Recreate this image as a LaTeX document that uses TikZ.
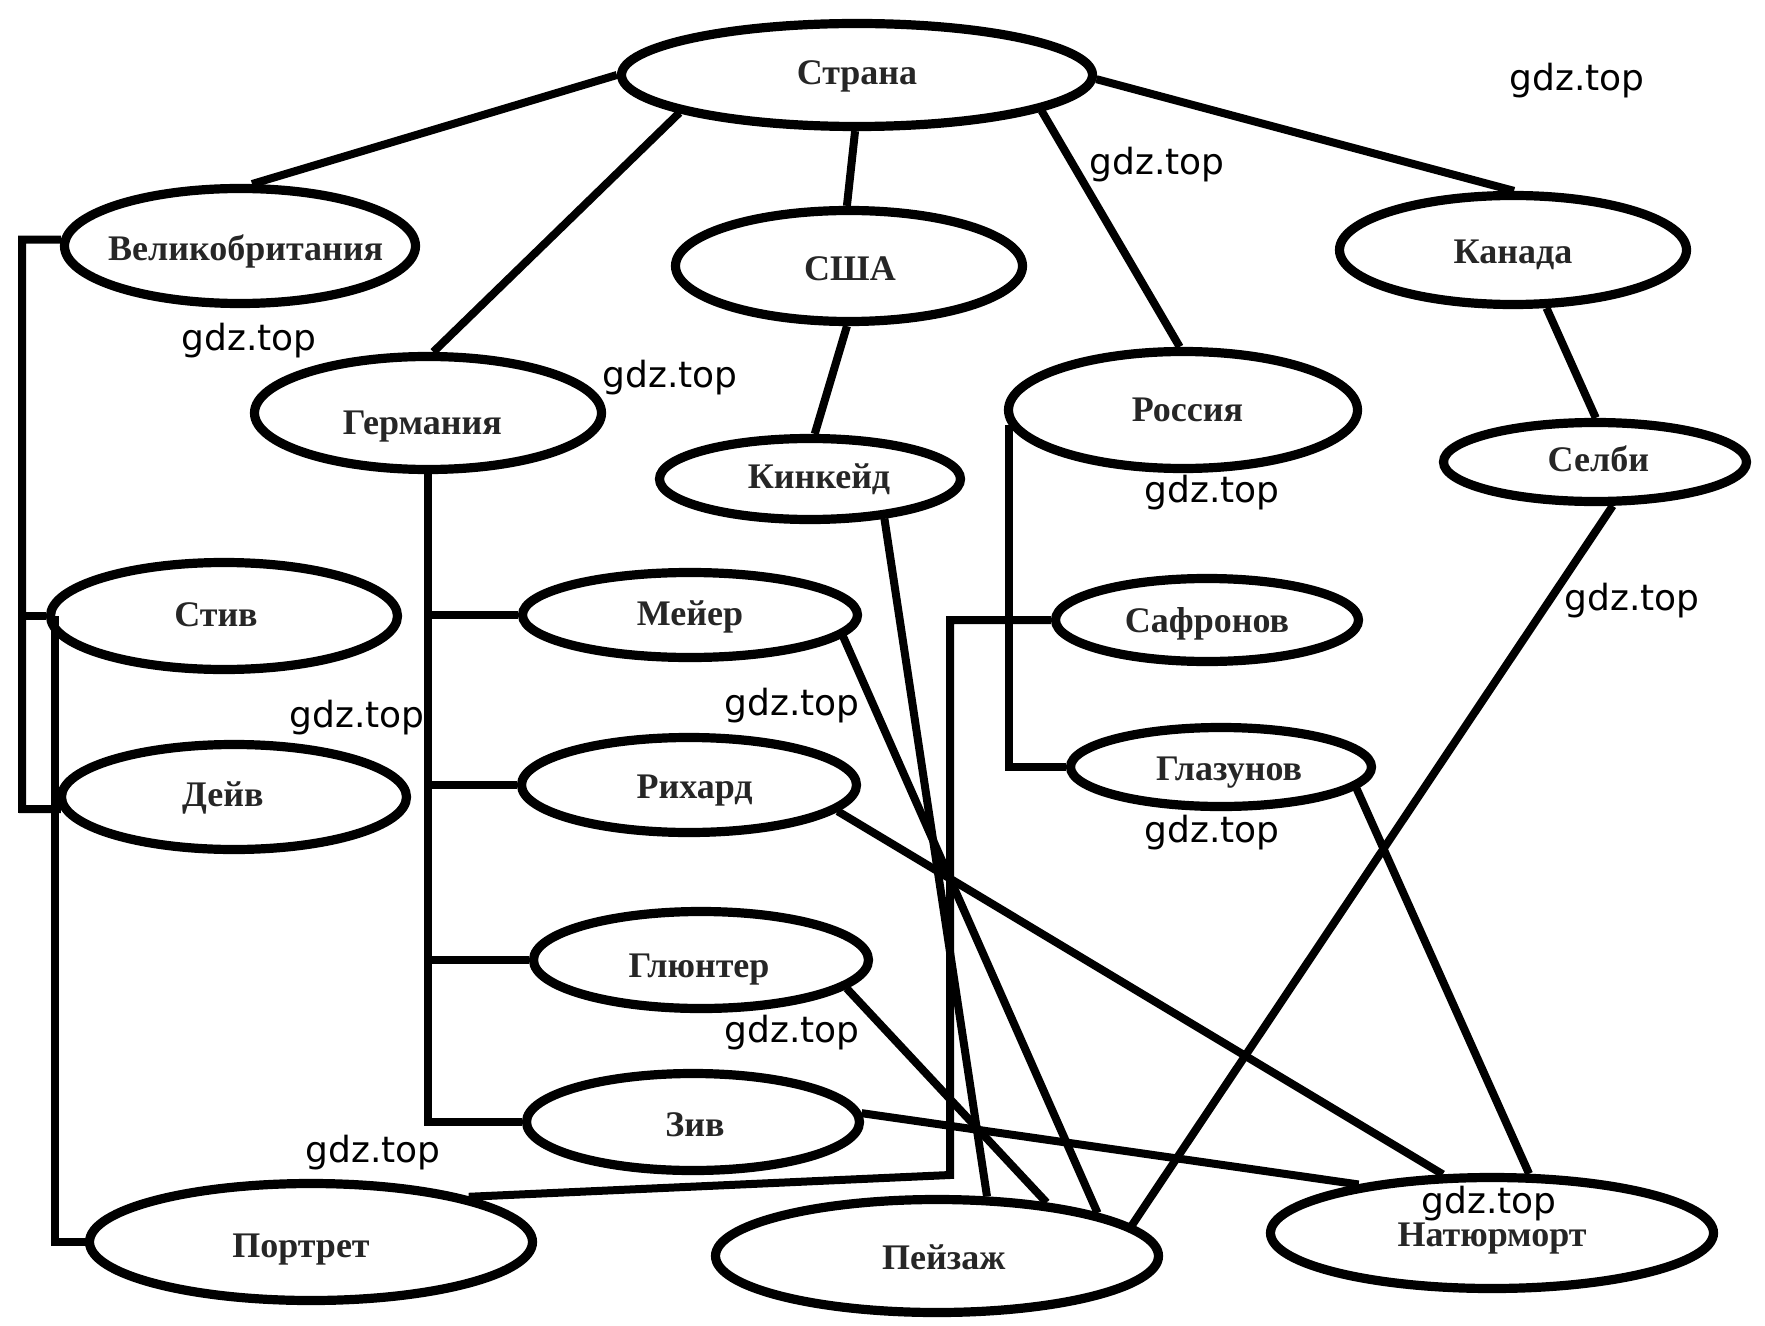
\documentclass[tikz,border=0pt]{standalone}
\usepackage{fontspec}
\setmainfont{Liberation Serif}
\newfontfamily\wmfont{DejaVu Sans}
\usetikzlibrary{shapes.geometric}
% #1 = horizontal shift, #2 = vertical raise, #3 = text
\newcommand{\lbx}[3]{\raisebox{#2}[0pt][0pt]{\makebox[0pt]{\kern#1\relax#3\kern-#1\relax}}}
\begin{document}
\begin{tikzpicture}[x=0.5pt,y=-0.5pt,
  ell/.style 2 args={ellipse,draw,line width=4.6pt,inner sep=0pt,
    minimum width=#1*0.5pt,minimum height=#2*0.5pt,
    text height=16pt,text depth=1pt,
    font=\bfseries\fontsize{18}{20}\selectfont,text=black!85},
  conn/.style={line width=4pt},
  wm/.style={font=\wmfont\fontsize{18}{20}\selectfont,inner sep=0pt}]
\useasboundingbox (0,0) rectangle (1765,1326);

% ellipses
\node[ell={471}{103}] (strana)    at (857,75)   {\lbx{0pt}{2.8pt}{Страна}};
\node[ell={351}{115}] (vb)        at (240,246)  {\lbx{2.8pt}{0.1pt}{Великобритания}};
\node[ell={347}{111}] (usa)       at (849,266)  {\lbx{0.5pt}{0.45pt}{США}};
\node[ell={347}{109}] (kanada)    at (1513,250) {\lbx{0pt}{0.7pt}{Канада}};
\node[ell={347}{113}] (germ)      at (428,413)  {\lbx{-2.8pt}{-3.3pt}{Германия}};
\node[ell={349}{117}] (rossiya)   at (1183,410) {\lbx{2.2pt}{1.55pt}{Россия}};
\node[ell={301}{81}]  (kinkeid)   at (810,479)  {\lbx{4.5pt}{2.9pt}{Кинкейд}};
\node[ell={303}{79}]  (selbi)     at (1595,462) {\lbx{1.7pt}{2.65pt}{Селби}};
\node[ell={347}{107}] (stiv)      at (224,616)  {\lbx{-4pt}{2.1pt}{Стив}};
\node[ell={335}{85}]  (meyer)     at (690,615)  {\lbx{0pt}{2.4pt}{Мейер}};
\node[ell={303}{83}]  (safronov)  at (1207,620) {\lbx{0pt}{1.25pt}{Сафронов}};
\node[ell={345}{105}] (deiv)      at (234,797)  {\lbx{-5.6pt}{2.9pt}{Дейв}};
\node[ell={335}{95}]  (rihard)    at (689,785)  {\lbx{2.8pt}{0.7pt}{Рихард}};
\node[ell={301}{79}]  (glazunov)  at (1221,767) {\lbx{4pt}{0.7pt}{Глазунов}};
\node[ell={335}{97}]  (glyunter)  at (701,960)  {\lbx{-1pt}{-1pt}{Глюнтер}};
\node[ell={333}{97}]  (ziv)       at (693,1122) {\lbx{1pt}{0.45pt}{Зив}};
\node[ell={443}{117}] (portret)   at (311,1242) {\lbx{-5pt}{-0.4pt}{Портрет}};
\node[ell={443}{113}] (peizazh)   at (937,1256) {\lbx{3.4pt}{0.95pt}{Пейзаж}};
\node[ell={443}{111}] (naturmort) at (1492,1233){\lbx{0pt}{0.7pt}{Натюрморт}};

% helper coordinates
\coordinate (brL) at (22,809);
\coordinate (cS)  at (55,1242);
\coordinate (cP)  at (950,1175);

% connectors
\draw[conn] (strana.180) -- (vb.79);
\draw[conn] (strana.192) -- (germ.85);
\draw[conn] (strana.268) -- (usa.92);
\draw[conn] (strana.349) -- (rossiya.93);
\draw[conn] (strana.359) -- (kanada.89);
\draw[conn] (usa.268) -- (kinkeid.84);
\draw[conn] (kanada.300) -- (selbi.89);
\draw[conn] (selbi.292) -- (peizazh.9.5);
\draw[conn] (kinkeid.332) -- (peizazh.50);
\draw[conn] (meyer.352) -- (peizazh.15);
\draw[conn] (rihard.350) -- (naturmort.130);
\draw[conn] (glyunter.349) -- (peizazh.26);
\draw[conn] (ziv.3) -- (naturmort.160);
\draw[conn] (glazunov.351.5) -- (naturmort.58.6);
\draw[conn] (portret.16) -- (cP) |- (safronov.west);
\draw[conn] (rossiya.185.6) |- (glazunov.west);
\draw[conn] (germ.south) |- (ziv.west);
\draw[conn] (germ.south |- meyer.west) -- (meyer.west);
\draw[conn] (germ.south |- rihard.west) -- (rihard.west);
\draw[conn] (germ.south |- glyunter.west) -- (glyunter.west);
\draw[conn] (vb.178) -| (brL) -- (deiv.184);
\draw[conn] (brL |- stiv.west) -- (stiv.west);
\draw[conn] (stiv.west -| cS) -- (cS) -- (portret.west);

% watermarks
\node[wm] (w1)  at (1577,81)  {gdz.top};
\node[wm] (w2)  at (1157,165) {gdz.top};
\node[wm] (w3)  at (249,341)  {gdz.top};
\node[wm] (w4)  at (670,378)  {gdz.top};
\node[wm] (w5)  at (1212,493) {gdz.top};
\node[wm] (w6)  at (1632,601) {gdz.top};
\node[wm] (w7)  at (357,718)  {gdz.top};
\node[wm] (w8)  at (792,706)  {gdz.top};
\node[wm] (w9)  at (1212,833) {gdz.top};
\node[wm] (w10) at (792,1033) {gdz.top};
\node[wm] (w11) at (373,1153) {gdz.top};
\node[wm] (w12) at (1489,1204){gdz.top};
\end{tikzpicture}
\end{document}
